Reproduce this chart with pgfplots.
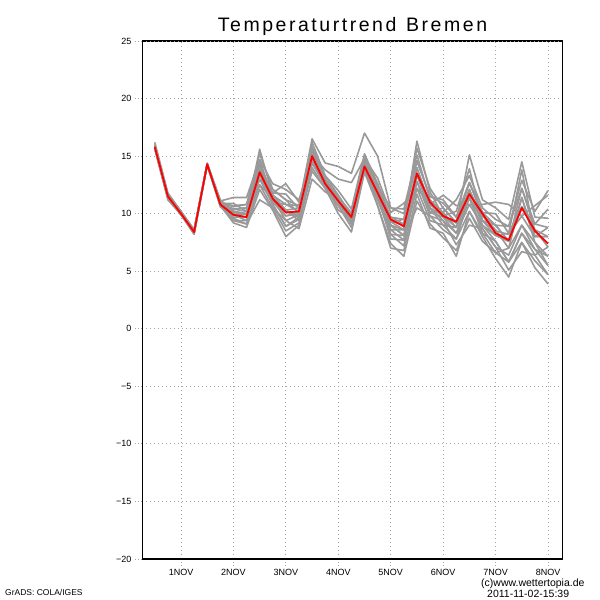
\documentclass[border=0pt]{standalone}
\usepackage{pgfplots}
\pgfplotsset{compat=1.18}
\usepackage{pgfplotstable}
\usepackage{fontspec}
\setmainfont{Liberation Sans}
\newfontfamily\titlefont[LetterSpace=13]{Liberation Sans}
\definecolor{ens}{RGB}{153,153,153}
\definecolor{gridc}{RGB}{165,165,165}

\pgfplotstableread{
t    m1   m2   m3   m4   m5   m6   m7   m8   m9   m10  m11  m12  m13  m14  m15  m16  m17  m18  r
0.50 15.9 15.8 15.7 16.2 15.6 16.0 15.8 15.8 15.9 15.7 15.8 15.9 15.9 15.8 15.8 15.7 16.0 15.9 15.8
0.75 11.5 11.5 11.4 11.8 11.2 11.7 11.3 11.4 11.5 11.4 11.4 11.4 11.5 11.5 11.4 11.3 11.6 11.4 11.5
1.00 10.1 10.0 9.9  10.2 9.9  10.2 10.0 10.0 10.1 10.0 10.1 9.9  10.0 10.0 10.0 10.0 10.1 10.0 10.0
1.25 8.5  8.5  8.3  8.6  8.2  8.6  8.4  8.4  8.5  8.3  8.4  8.4  8.5  8.5  8.4  8.4  8.6  8.4  8.4
1.50 14.3 14.3 14.3 14.3 14.2 14.4 14.3 14.3 14.3 14.3 14.3 14.3 14.3 14.3 14.3 14.3 14.3 14.3 14.3
1.75 10.9 10.8 10.7 11.1 10.6 11.2 10.8 10.8 10.9 10.7 10.9 10.8 10.8 10.8 10.9 10.7 11.0 10.8 10.8
2.00 10.7 10.4 9.2  11.4 9.6  10.2 9.9  9.4  10.9 10.1 9.7  10.4 10.2 9.9  10.4 9.4  10.6 9.9  9.9
2.25 10.8 10.5 8.8  11.4 9.1  10.0 9.7  9.4  10.2 9.9  9.7  10.2 10.0 9.4  10.5 9.1  10.8 10.0 9.7
2.50 15.2 13.0 12.1 14.7 11.2 15.6 13.8 13.4 14.3 12.5 13.9 14.7 14.3 13.0 13.4 12.5 13.8 13.4 13.6
2.75 12.1 11.8 10.3 12.6 10.5 11.6 11.0 10.8 11.6 11.3 11.3 11.3 11.0 10.8 11.8 10.5 12.1 11.6 11.3
3.00 11.2 12.6 8.0  12.1 9.4  10.3 9.8  8.9  10.8 10.3 9.8  9.4  10.8 8.9  11.7 8.5  11.2 10.3 10.1
3.25 10.7 11.0 9.0  11.2 8.7  10.5 10.0 9.7  10.2 9.4  10.2 9.9  10.7 9.5  10.4 9.2  10.0 9.7  10.2
3.50 16.5 15.1 14.0 14.8 13.0 16.2 15.4 14.7 15.8 14.4 15.1 15.5 15.8 14.4 15.1 13.7 15.4 14.8 15.0
3.75 14.4 13.8 12.2 13.3 11.9 13.3 12.7 12.4 13.0 12.6 12.7 12.9 13.0 12.4 12.7 12.2 13.0 12.6 12.6
4.00 14.1 13.0 10.7 12.0 11.2 11.6 11.2 11.0 11.4 10.3 11.2 11.2 11.2 10.7 11.2 10.0 11.4 11.0 11.1
4.25 13.5 12.7 8.8  10.4 9.3  9.9  9.9  9.3  10.1 9.6  9.9  9.3  9.6  9.1  9.9  8.4  9.9  9.3  9.7
4.50 17.0 14.8 14.1 15.2 13.8 14.7 14.5 14.3 15.0 13.9 14.1 14.5 14.1 13.8 14.5 13.6 14.8 14.5 14.1
4.75 15.0 13.1 10.7 12.6 11.2 12.6 12.1 11.6 12.4 11.4 11.9 12.1 11.6 11.2 12.1 10.7 11.6 11.9 11.8
5.00 10.5 10.1 7.0  9.3  9.0  9.7  9.3  8.2  10.5 8.6  9.7  9.0  7.8  8.2  9.3  7.4  8.6  9.0  9.5
5.25 10.0 10.9 6.8  9.5  8.1  9.1  8.6  7.2  10.4 7.7  9.5  8.6  7.7  8.1  9.1  6.3  8.6  8.1  8.9
5.50 14.6 12.2 11.7 15.7 10.5 16.3 14.0 12.8 15.1 13.4 14.6 14.0 12.2 12.8 13.4 11.1 13.4 13.4 13.5
5.75 11.5 10.8 8.75 12.2 9.8  11.9 10.5 9.8  11.2 10.1 11.5 10.8 9.4  10.1 10.5 9.1  10.5 10.8 11.0
6.00 11.2 11.6 8.3  10.5 9.4  9.8  9.0  8.6  10.1 9.7  10.9 10.1 9.0  10.5 9.4  7.9  9.8  9.8  9.8
6.25 9.7  10.7 6.3  9.2  7.3  10.2 8.8  7.8  11.2 8.3  9.7  8.8  7.8  9.2  8.3  6.8  9.2  8.8  9.3
6.50 12.7 10.8 10.2 15.1 9.0  13.9 12.0 11.4 13.3 10.8 12.7 12.1 10.2 12.7 11.4 9.6  12.1 11.4 11.7
6.75 10.1 10.8 8.0  11.2 8.7  9.4  9.8  8.7  10.5 9.0  10.1 9.4  8.3  9.8  8.3  7.6  9.0  9.4  10.0
7.00 10.0 11.0 6.1  10.5 7.1  8.1  8.6  7.1  9.5  7.6  9.0  8.5  7.6  9.0  6.6  6.6  8.1  9.0  8.3
7.25 8.3  10.8 4.5  9.5  5.1  8.3  7.0  6.4  8.9  5.8  7.6  8.2  5.8  8.9  7.0  5.8  7.6  7.6  7.7
7.50 10.6 9.8  7.5  14.5 6.7  13.8 11.4 9.0  12.9 8.3  12.2 9.8  8.3  12.2 9.0  7.5  10.6 11.4 10.5
7.75 9.1  10.7 5.3  9.7  6.4  8.0  7.5  6.9  10.2 6.4  8.6  8.0  6.9  9.1  7.5  5.9  8.6  8.0  8.5
8.00 10.4 11.6 3.9  9.6  4.7  8.8  6.3  5.5  12.0 7.1  8.0  8.0  6.3  8.8  5.5  4.7  7.1  8.0  7.4
}\enstable

\begin{document}
\begin{tikzpicture}
\path[use as bounding box] (0pt,0pt) rectangle (600pt,600pt);
\begin{axis}[
  at={(142pt,41pt)}, anchor=south west,
  scale only axis, width=421pt, height=518pt,
  xmin=0.256, xmax=8.286, ymin=-20, ymax=25,
  xtick={1,2,3,4,5,6,7,8},
  xticklabels={1NOV,2NOV,3NOV,4NOV,5NOV,6NOV,7NOV,8NOV},
  ytick={-20,-15,-10,-5,0,5,10,15,20,25},
  yticklabels={−20,−15,−10,−5,0,5,10,15,20,25},
  tick pos=left,
  tick align=outside,
  major tick length=7pt,
  tick style={gridc, line width=0.9pt, dash pattern=on 1pt off 2pt},
  grid=major,
  grid style={gridc, line width=0.9pt, dash pattern=on 1pt off 3pt},
  axis line style={draw=none},
  ticklabel style={font=\fontsize{9}{9}\selectfont},
  every axis plot/.append style={line join=round},
]
\pgfplotsinvokeforeach{1,...,18}{
  \addplot[ens, line width=1.6pt, no markers] table[x=t, y=m#1] {\enstable};
}
\addplot[red, line width=1.8pt, no markers] table[x=t, y=r] {\enstable};
\draw[black, line width=1.5pt] (rel axis cs:0,1) -- (rel axis cs:1,1);
\draw[gridc, line width=0.9pt, dash pattern=on 1pt off 3pt] (rel axis cs:0,1) -- (rel axis cs:1,1);
\draw[black, line width=2.5pt, line cap=rect] (rel axis cs:0,0) -- (rel axis cs:1,0);
\draw[black, line width=2.6pt, line cap=rect] (rel axis cs:0,0) -- (rel axis cs:0,1);
\draw[black, line width=2.6pt, line cap=rect] (rel axis cs:1,0) -- (rel axis cs:1,1);
\end{axis}
\node[anchor=base, font=\titlefont\fontsize{19.5}{20}\selectfont] at (352.5pt,568.5pt) {Temperaturtrend\hspace{0.5em}Bremen};
\node[anchor=base west, inner sep=0pt, font=\fontsize{8.5}{9}\selectfont] at (5pt,5pt) {GrADS: COLA/IGES};
\node[anchor=base west, inner sep=0pt, font=\fontsize{10.5}{11}\selectfont] at (481pt,13.5pt) {(c)www.wettertopia.de};
\node[anchor=base west, inner sep=0pt, font=\fontsize{10.5}{11}\selectfont] at (487pt,2pt) {2011-11-02-15:39};
\end{tikzpicture}
\end{document}
